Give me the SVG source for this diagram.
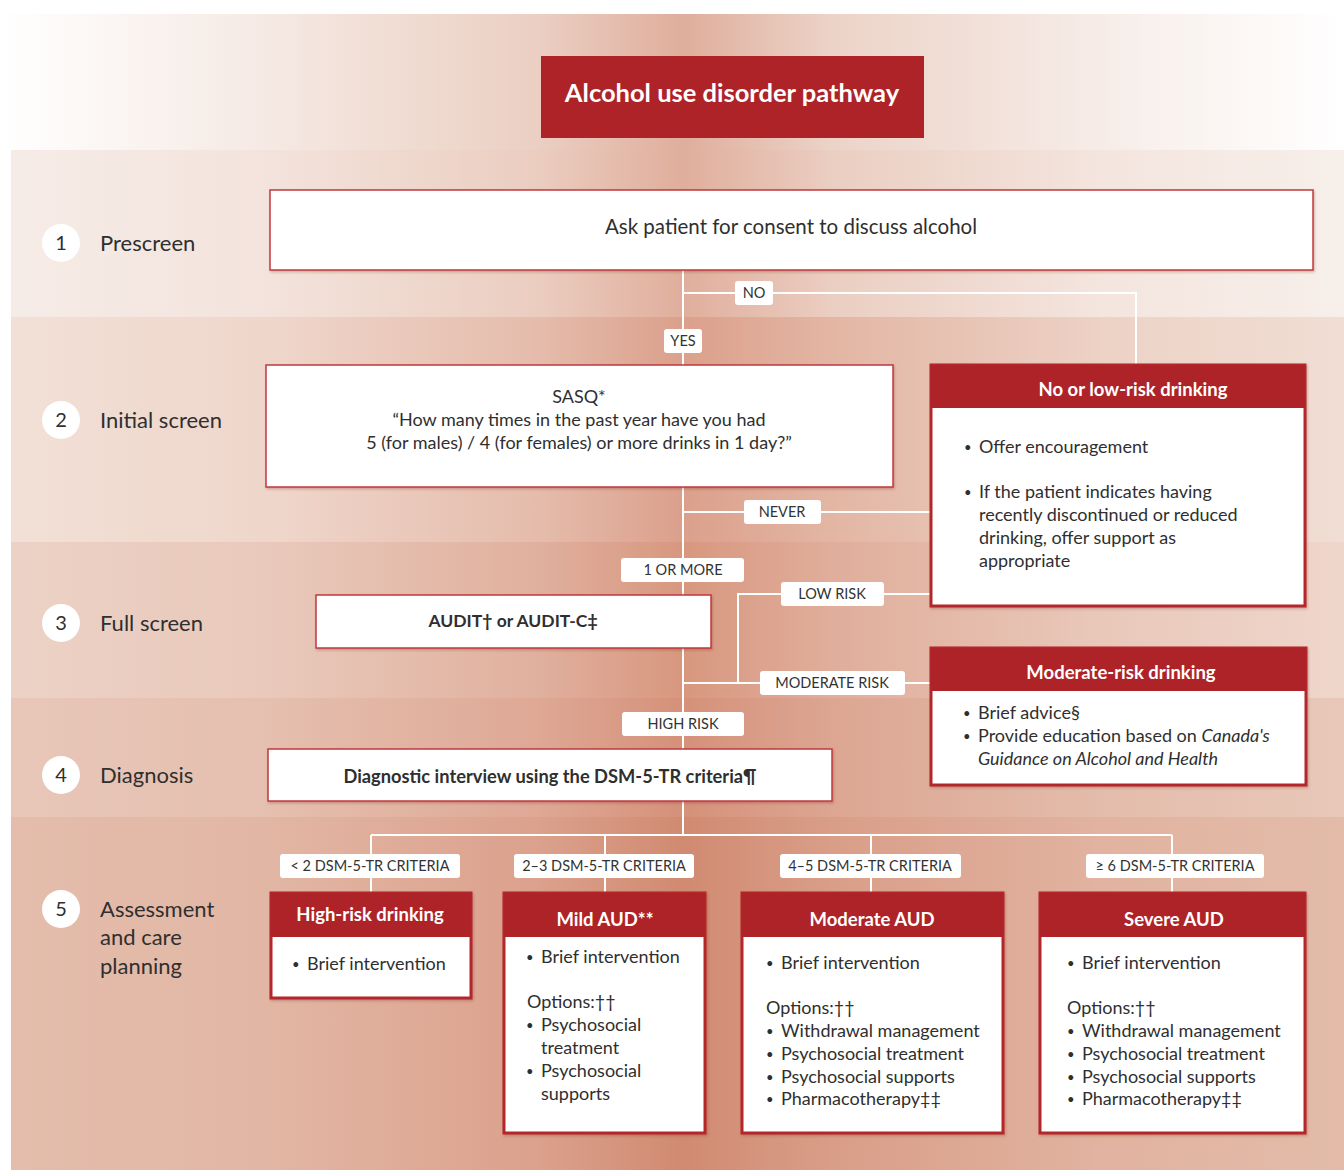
<svg xmlns="http://www.w3.org/2000/svg" width="1344" height="1170" viewBox="0 0 1344 1170">
<defs>
<linearGradient id="gH" gradientUnits="userSpaceOnUse" x1="0" y1="0" x2="1344" y2="0">
<stop offset="0" stop-color="#ffffff"/><stop offset="0.2" stop-color="#f5e9e3"/><stop offset="0.4" stop-color="#ebcfc3"/><stop offset="0.508" stop-color="#dfae9c"/><stop offset="0.62" stop-color="#ecd3c8"/><stop offset="0.85" stop-color="#f8f0ec"/><stop offset="1" stop-color="#ffffff"/>
</linearGradient>
<linearGradient id="g1" gradientUnits="userSpaceOnUse" x1="0" y1="0" x2="1344" y2="0">
<stop offset="0" stop-color="#f6ece7"/><stop offset="0.2" stop-color="#f3e3dc"/><stop offset="0.4" stop-color="#ebcdc0"/><stop offset="0.508" stop-color="#e0ae9c"/><stop offset="0.62" stop-color="#ebcec2"/><stop offset="0.82" stop-color="#f4e5de"/><stop offset="1" stop-color="#f7efea"/>
</linearGradient>
<linearGradient id="g2" gradientUnits="userSpaceOnUse" x1="0" y1="0" x2="1344" y2="0">
<stop offset="0" stop-color="#f2e0d7"/><stop offset="0.2" stop-color="#efd6cb"/><stop offset="0.4" stop-color="#e5bcac"/><stop offset="0.508" stop-color="#dba08b"/><stop offset="0.62" stop-color="#e3b6a4"/><stop offset="0.82" stop-color="#edd2c6"/><stop offset="1" stop-color="#f0ddd3"/>
</linearGradient>
<linearGradient id="g3" gradientUnits="userSpaceOnUse" x1="0" y1="0" x2="1344" y2="0">
<stop offset="0" stop-color="#ecd2c6"/><stop offset="0.2" stop-color="#e9c9bb"/><stop offset="0.4" stop-color="#e0b09e"/><stop offset="0.508" stop-color="#d8977f"/><stop offset="0.62" stop-color="#e0ae9b"/><stop offset="0.82" stop-color="#e9c8ba"/><stop offset="1" stop-color="#efd6cb"/>
</linearGradient>
<linearGradient id="g4" gradientUnits="userSpaceOnUse" x1="0" y1="0" x2="1344" y2="0">
<stop offset="0" stop-color="#e8c7b9"/><stop offset="0.2" stop-color="#e5bfaf"/><stop offset="0.4" stop-color="#dea895"/><stop offset="0.508" stop-color="#d5917a"/><stop offset="0.62" stop-color="#dca692"/><stop offset="0.82" stop-color="#e4bcab"/><stop offset="1" stop-color="#e8c8b9"/>
</linearGradient>
<linearGradient id="g5" gradientUnits="userSpaceOnUse" x1="0" y1="0" x2="1344" y2="0">
<stop offset="0" stop-color="#e4bdac"/><stop offset="0.2" stop-color="#e2b6a4"/><stop offset="0.4" stop-color="#dba18c"/><stop offset="0.508" stop-color="#d18a72"/><stop offset="0.62" stop-color="#d99e88"/><stop offset="0.82" stop-color="#e1b3a0"/><stop offset="1" stop-color="#e3bba9"/>
</linearGradient>
<filter id="sh" x="-5%" y="-5%" width="110%" height="115%"><feDropShadow dx="1" dy="1.5" stdDeviation="1" flood-color="#7a2a20" flood-opacity="0.3"/></filter>
</defs>
<style>
text{font-family:Lato,"Open Sans","Liberation Sans",sans-serif;fill:#2f2f2f}
.box{fill:#ffffff;stroke:#c0393c;stroke-width:1.5}
.rbox{fill:#ffffff;stroke:#b3262b;stroke-width:3}
.hdr{fill:#ae2328}
.ht{font-weight:bold;fill:#ffffff;font-size:18.5px;text-anchor:middle}
.step{font-size:22px}
.num{font-size:20px;text-anchor:middle}
.t{font-size:18px}
.bl{font-size:13px}
.c{text-anchor:middle}
.b{font-weight:bold}
.lbl{fill:#ffffff;stroke:none}
.lt{font-size:14.5px;text-anchor:middle;fill:#333333}
.con{stroke:#ffffff;stroke-width:2;fill:none}
</style>

<g id="background">
<rect x="0" y="14" width="1344" height="136" fill="url(#gH)"/>
<rect x="11" y="150" width="1333" height="167" fill="url(#g1)"/>
<rect x="11" y="317" width="1333" height="225" fill="url(#g2)"/>
<rect x="11" y="542" width="1333" height="156" fill="url(#g3)"/>
<rect x="11" y="698" width="1333" height="119" fill="url(#g4)"/>
<rect x="11" y="817" width="1333" height="353" fill="url(#g5)"/>
</g>

<g id="steps">
<ellipse cx="61" cy="243" rx="19" ry="19" fill="#fff"/><text class="num" x="61" y="250">1</text><text class="step" x="100" y="251">Prescreen</text>
<ellipse cx="61" cy="420" rx="19" ry="19" fill="#fff"/><text class="num" x="61" y="427">2</text><text class="step" x="100" y="428">Initial screen</text>
<ellipse cx="61" cy="623" rx="19" ry="19" fill="#fff"/><text class="num" x="61" y="630">3</text><text class="step" x="100" y="631">Full screen</text>
<ellipse cx="61" cy="775" rx="19" ry="19" fill="#fff"/><text class="num" x="61" y="782">4</text><text class="step" x="100" y="783">Diagnosis</text>
<ellipse cx="61" cy="909" rx="19" ry="19" fill="#fff"/><text class="num" x="61" y="916">5</text><text class="step" x="100" y="917">Assessment</text><text class="step" x="100" y="945">and care</text><text class="step" x="100" y="974">planning</text>
</g>

<g id="connectors">
<path class="con" d="M683 270 V365 M683 293 H1136 V365 M683 487 V595 M683 512 H931 M683 648 V749 M683 683 H931 M738 683 V594 H931 M683 801 V835 M371 835 H1172 M371 835 V893 M605 835 V893 M871 835 V893 M1172 835 V893"/>
<rect class="lbl" x="735" y="281" width="38" height="24" rx="3"/><text class="lt" x="754" y="298">NO</text>
<rect class="lbl" x="664" y="329" width="38" height="24" rx="3"/><text class="lt" x="683" y="346">YES</text>
<rect class="lbl" x="744" y="500" width="77" height="24" rx="3"/><text class="lt" x="782" y="517">NEVER</text>
<rect class="lbl" x="621" y="558" width="123" height="24" rx="3"/><text class="lt" x="683" y="575">1 OR MORE</text>
<rect class="lbl" x="781" y="582" width="103" height="24" rx="3"/><text class="lt" x="832" y="599">LOW RISK</text>
<rect class="lbl" x="760" y="671" width="145" height="24" rx="3"/><text class="lt" x="832" y="688">MODERATE RISK</text>
<rect class="lbl" x="622" y="712" width="122" height="24" rx="3"/><text class="lt" x="683" y="729">HIGH RISK</text>
<rect class="lbl" x="280" y="854" width="180" height="24" rx="3"/><text class="lt" x="370" y="871">&lt; 2 DSM-5-TR CRITERIA</text>
<rect class="lbl" x="514" y="854" width="180" height="24" rx="3"/><text class="lt" x="604" y="871">2–3 DSM-5-TR CRITERIA</text>
<rect class="lbl" x="780" y="854" width="181" height="24" rx="3"/><text class="lt" x="870" y="871">4–5 DSM-5-TR CRITERIA</text>
<rect class="lbl" x="1086" y="854" width="178" height="24" rx="3"/><text class="lt" x="1175" y="871">≥ 6 DSM-5-TR CRITERIA</text>
</g>

<g id="title">
<rect x="541" y="56" width="383" height="82" fill="#ae2328"/>
<text x="732" y="102" text-anchor="middle" style="fill:#ffffff;font-weight:bold;font-size:25.5px">Alcohol use disorder pathway</text>
</g>

<g id="consent">
<rect class="box" x="270" y="190" width="1043" height="80" filter="url(#sh)"/>
<text class="c" x="791" y="234" style="font-size:20.5px">Ask patient for consent to discuss alcohol</text>
</g>

<g id="sasq">
<rect class="box" x="266" y="365" width="627" height="122" filter="url(#sh)"/>
<text class="t c" x="579" y="403">SASQ*</text>
<text class="t c" x="579" y="426">“How many times in the past year have you had</text>
<text class="t c" x="579" y="449">5 (for males) / 4 (for females) or more drinks in 1 day?”</text>
</g>

<g id="no-low-risk">
<rect class="rbox" x="931" y="365" width="374" height="241" filter="url(#sh)"/>
<rect class="hdr" x="931" y="365" width="374" height="43"/>
<text class="ht" x="1133" y="396">No or low-risk drinking</text>
<text class="t bl" x="964" y="452">•</text><text class="t" x="979" y="453">Offer encouragement</text>
<text class="t bl" x="964" y="497">•</text><text class="t" x="979" y="498">If the patient indicates having</text>
<text class="t" x="979" y="521">recently discontinued or reduced</text>
<text class="t" x="979" y="544">drinking, offer support as</text>
<text class="t" x="979" y="567">appropriate</text>
</g>

<g id="audit">
<rect class="box" x="316" y="595" width="395" height="53" filter="url(#sh)"/>
<text class="c b" x="513" y="627" style="font-size:17.5px">AUDIT† or AUDIT-C‡</text>
</g>

<g id="moderate-risk">
<rect class="rbox" x="931" y="648" width="375" height="137" filter="url(#sh)"/>
<rect class="hdr" x="931" y="648" width="375" height="43"/>
<text class="ht" x="1121" y="679">Moderate-risk drinking</text>
<text class="t bl" x="963" y="718">•</text><text class="t" x="978" y="719">Brief advice§</text>
<text class="t bl" x="963" y="741">•</text><text class="t" x="978" y="742">Provide education based on <tspan font-style="italic">Canada's</tspan></text>
<text class="t" x="978" y="765" font-style="italic">Guidance on Alcohol and Health</text>
</g>

<g id="diagnostic">
<rect class="box" x="268" y="749" width="564" height="52" filter="url(#sh)"/>
<text class="c b" x="550" y="783" style="font-size:18.3px">Diagnostic interview using the DSM-5-TR criteria¶</text>
</g>

<g id="high-risk">
<rect class="rbox" x="271" y="893" width="200" height="105" filter="url(#sh)"/>
<rect class="hdr" x="271" y="893" width="200" height="44"/>
<text class="ht" x="370" y="921">High-risk drinking</text>
<text class="t bl" x="292" y="969">•</text><text class="t" x="307" y="970">Brief intervention</text>
</g>

<g id="mild-aud">
<rect class="rbox" x="504" y="893" width="201" height="240" filter="url(#sh)"/>
<rect class="hdr" x="504" y="893" width="201" height="44"/>
<text class="ht" x="605" y="926">Mild AUD**</text>
<text class="t bl" x="526" y="962">•</text><text class="t" x="541" y="963">Brief intervention</text>
<text class="t" x="527" y="1008">Options:††</text>
<text class="t bl" x="526" y="1030">•</text><text class="t" x="541" y="1031">Psychosocial</text>
<text class="t" x="541" y="1054">treatment</text>
<text class="t bl" x="526" y="1076">•</text><text class="t" x="541" y="1077">Psychosocial</text>
<text class="t" x="541" y="1100">supports</text>
</g>

<g id="moderate-aud">
<rect class="rbox" x="742" y="893" width="261" height="240" filter="url(#sh)"/>
<rect class="hdr" x="742" y="893" width="261" height="44"/>
<text class="ht" x="872" y="926">Moderate AUD</text>
<text class="t bl" x="766" y="968">•</text><text class="t" x="781" y="969">Brief intervention</text>
<text class="t" x="766" y="1014">Options:††</text>
<text class="t bl" x="766" y="1036">•</text><text class="t" x="781" y="1037">Withdrawal management</text>
<text class="t bl" x="766" y="1059">•</text><text class="t" x="781" y="1060">Psychosocial treatment</text>
<text class="t bl" x="766" y="1082">•</text><text class="t" x="781" y="1083">Psychosocial supports</text>
<text class="t bl" x="766" y="1104">•</text><text class="t" x="781" y="1105">Pharmacotherapy‡‡</text>
</g>

<g id="severe-aud">
<rect class="rbox" x="1040" y="893" width="265" height="240" filter="url(#sh)"/>
<rect class="hdr" x="1040" y="893" width="265" height="44"/>
<text class="ht" x="1174" y="926">Severe AUD</text>
<text class="t bl" x="1067" y="968">•</text><text class="t" x="1082" y="969">Brief intervention</text>
<text class="t" x="1067" y="1014">Options:††</text>
<text class="t bl" x="1067" y="1036">•</text><text class="t" x="1082" y="1037">Withdrawal management</text>
<text class="t bl" x="1067" y="1059">•</text><text class="t" x="1082" y="1060">Psychosocial treatment</text>
<text class="t bl" x="1067" y="1082">•</text><text class="t" x="1082" y="1083">Psychosocial supports</text>
<text class="t bl" x="1067" y="1104">•</text><text class="t" x="1082" y="1105">Pharmacotherapy‡‡</text>
</g>
</svg>
